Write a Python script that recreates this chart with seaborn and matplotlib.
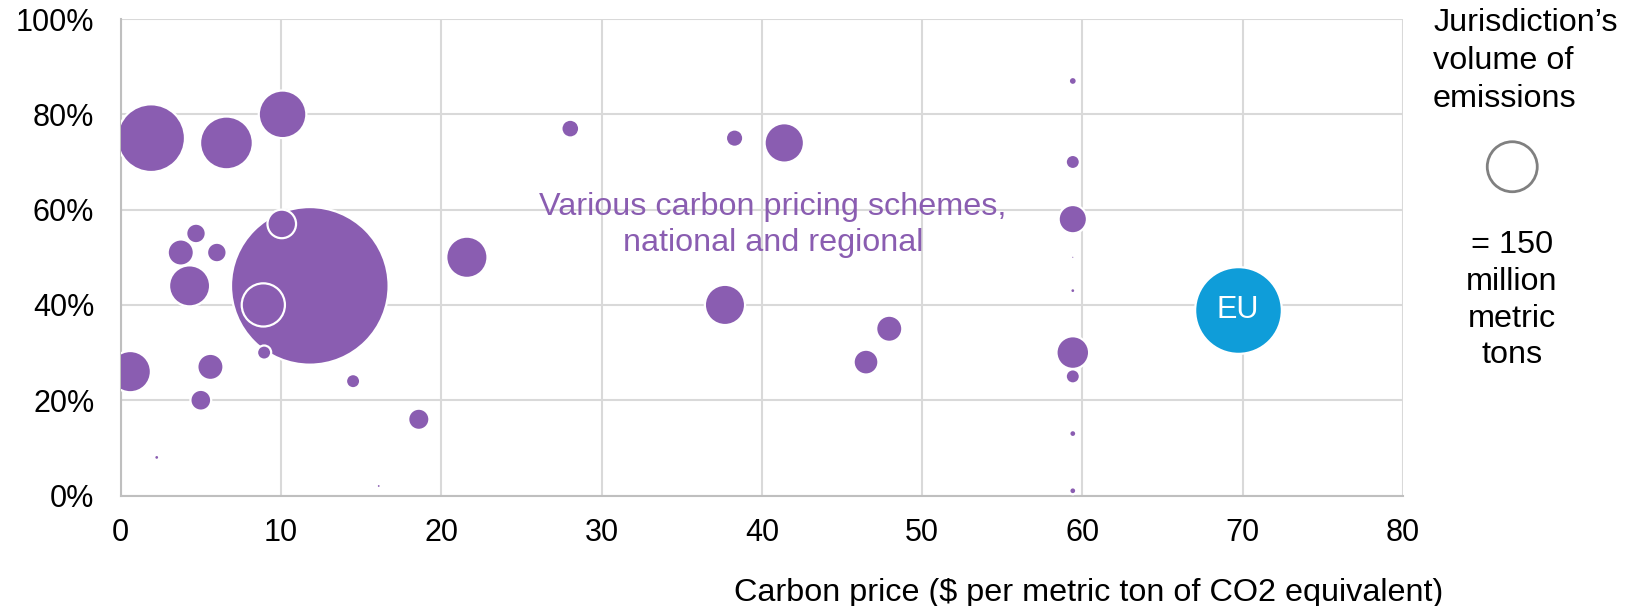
import seaborn as sns
import matplotlib.pyplot as plt
import pandas as pd
from matplotlib.ticker import PercentFormatter

# carbon price ($/t), share of emissions covered (%), emissions (Mt CO2e)
price = [11.8, 1.9, 6.6, 10.1, 4.7, 3.75, 6.0, 4.3, 10.05, 21.6, 8.9, 8.95,
         0.6, 5.6, 5.0, 14.5, 18.6, 2.25, 16.1, 28.05, 38.3, 41.4, 37.7, 47.95,
         46.5, 59.4, 59.4, 59.4, 59.4, 59.4, 59.4, 59.4, 59.4, 59.4]
coverage = [44, 75, 74, 80, 55, 51, 51, 44, 57, 50, 40, 30,
            26, 27, 20, 24, 16, 8, 2, 77, 75, 74, 40, 35,
            28, 87, 70, 58, 50, 43, 30, 25, 13, 1]
emissions = [1490, 275, 167, 136, 23, 41, 23, 101, 49, 102, 112, 12,
             102, 41, 26, 12, 27, 1.5, 1.0, 19, 18, 93, 97, 41,
             37, 3.8, 12, 48, 0.7, 1.5, 64, 12, 2.9, 2.9]

eu_price = [69.7]
eu_coverage = [39]
eu_emissions = [451]

legend_emissions = 150

purple = "#8A5DB1"
blue = "#0F9DD9"
pt2_per_mt = 8.64  # marker area (pt^2) per Mt, so 150 Mt -> ~50 px wide

df = pd.DataFrame({"price": price, "coverage": coverage, "emissions": emissions})
df = df.sort_values("emissions", ascending=False)
eu = pd.DataFrame({"price": eu_price, "coverage": eu_coverage, "emissions": eu_emissions})

sns.set_style("white")
plt.rcParams["font.family"] = ["Liberation Sans", "DejaVu Sans"]
plt.rcParams["text.color"] = "black"
plt.rcParams["axes.labelcolor"] = "black"

fig = plt.figure(figsize=(16.35, 6.06), dpi=100)
ax = fig.add_axes([0.0738, 0.1823, 0.7843, 0.7863])

emin, emax = df["emissions"].min(), df["emissions"].max()
sns.scatterplot(data=df, x="price", y="coverage", size="emissions",
                sizes=(emin * pt2_per_mt, emax * pt2_per_mt), size_norm=(emin, emax),
                color=purple, edgecolor="white", linewidth=1.6, alpha=1,
                legend=False, ax=ax, zorder=3)
sns.scatterplot(data=eu, x="price", y="coverage", s=eu_emissions[0] * pt2_per_mt,
                color=blue, edgecolor="white", linewidth=1.6, legend=False, ax=ax, zorder=3)
ax.text(eu_price[0], eu_coverage[0], "EU", color="white", fontsize=22,
        ha="center", va="center", zorder=4)

ax.text(40.7, 56.8, "Various carbon pricing schemes,\nnational and regional",
        color=purple, fontsize=23.3, ha="center", va="center", linespacing=1.25)

ax.set_xlim(0, 80)
ax.set_ylim(0, 100)
ax.set_xticks(range(0, 81, 10))
ax.set_yticks(range(0, 101, 20))
ax.yaxis.set_major_formatter(PercentFormatter(decimals=0))
ax.grid(True, color="#D9D9D9", linewidth=1.5)
ax.set_axisbelow(True)
for side in ["top", "right"]:
    ax.spines[side].set_visible(False)
for side in ["left", "bottom"]:
    ax.spines[side].set_color("#BFBFBF")
    ax.spines[side].set_linewidth(1.5)
ax.tick_params(axis="both", length=0, labelsize=22, labelcolor="black")
ax.tick_params(axis="y", pad=19)
ax.tick_params(axis="x", pad=16)
ax.set_ylabel("")
ax.set_xlabel("Carbon price ($ per metric ton of CO2 equivalent)", fontsize=23.3, color="black")
ax.xaxis.set_label_coords(0.7548, -0.205)
ax.xaxis.label.set_va("center")

# size legend
ax.scatter([1.0852], [0.690], s=legend_emissions * pt2_per_mt, facecolor="none",
           edgecolor="#808080", linewidth=2, transform=ax.transAxes, clip_on=False)
for line, base in zip(["Jurisdiction’s", "volume of", "emissions"], [31, 69, 107]):
    fig.text(0.8765, 1 - base / 606, line, fontsize=23.3, ha="left", va="baseline")
for line, base in zip(["= 150", "million", "metric", "tons"], [253, 290, 327, 363]):
    fig.text(1512 / 1635, 1 - base / 606, line, fontsize=23.3, ha="center", va="baseline")

fig.savefig("out.png", dpi=100)
